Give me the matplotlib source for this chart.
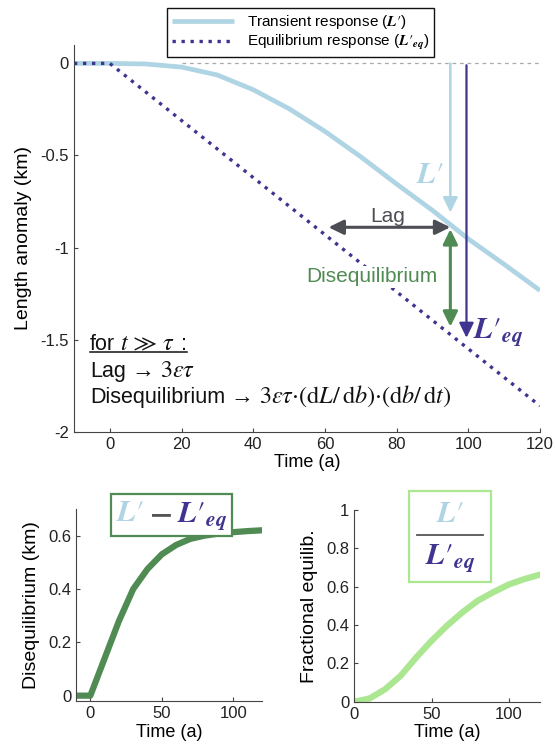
import matplotlib
matplotlib.use("Agg")
import matplotlib.pyplot as plt
from matplotlib.lines import Line2D
from matplotlib.offsetbox import AnnotationBbox, DrawingArea, HPacker, TextArea, VPacker

plt.rcParams.update({
    "font.family": ["Liberation Sans", "DejaVu Sans"],
    "mathtext.fontset": "stix",
    "axes.edgecolor": "#444444",
    "axes.linewidth": 0.8,
    "axes.spines.top": False,
    "axes.spines.right": False,
    "xtick.direction": "in",
    "ytick.direction": "in",
    "xtick.major.size": 3,
    "ytick.major.size": 3,
    "xtick.color": "#444444",
    "ytick.color": "#444444",
    "xtick.labelcolor": "#222222",
    "ytick.labelcolor": "#222222",
    "xtick.labelsize": 12,
    "ytick.labelsize": 12,
})

C_TRANS = "#afd4e3"
C_EQ = "#3f3590"
C_DISEQ = "#4f8b52"
C_FRAC = "#abe690"
C_LAG = "#4d4e55"
C_TEXT = "#111111"

# model output, 10-year steps (km)
years = [-10, 0, 10, 20, 30, 40, 50, 60, 70, 80, 90, 100, 110, 120]
L_transient = [0, 0, -0.003, -0.02, -0.063, -0.143, -0.246, -0.369, -0.507,
               -0.655, -0.798, -0.953, -1.091, -1.233]
L_equilib = [0, 0, -0.155, -0.31, -0.465, -0.62, -0.775, -0.93, -1.085,
             -1.24, -1.395, -1.55, -1.705, -1.86]
diseq = [0, 0, 0.14, 0.28, 0.40, 0.475, 0.53, 0.565, 0.588, 0.600, 0.608,
         0.613, 0.617, 0.62]
frac_years = [0, 10, 20, 30, 40, 50, 60, 70, 80, 90, 100, 110, 120]
frac_equilib = [0, 0.017, 0.065, 0.135, 0.23, 0.318, 0.397, 0.467, 0.528,
                0.572, 0.612, 0.64, 0.663]

# annotation geometry (time, km)
t_mark = 95
lag_span = (61, 95)
lag_level = -0.89
diseq_span = (-0.90, -1.43)
trans_arrow = (0, -0.81)
eq_arrow_t = 99.5
eq_arrow = (-0.01, -1.49)

L1 = r"$\mathbfit{L}\prime$"
LEQ = r"$\mathbfit{L}\prime_{\mathbfit{eq}}$"


def sans(s, size=15.5):
    return TextArea(s, textprops=dict(color=C_TEXT, fontsize=size))


def math(s, size=17.5):
    return TextArea(s, textprops=dict(color=C_TEXT, fontsize=size))


def put_line(ax, parts, x, y):
    box = HPacker(children=parts, align="baseline", pad=0, sep=4)
    ab = AnnotationBbox(box, (x, y), xycoords="data", box_alignment=(0, 0),
                        frameon=False, pad=0)
    ax.add_artist(ab)
    return ab


fig = plt.figure(figsize=(5.55, 7.51), dpi=100)

# ---- main panel: length anomaly
ax = fig.add_axes([0.1333, 0.4252, 0.8396, 0.5149])
ax.plot([20, 120], [0, 0], color="#aaaaaa", lw=0.9, dashes=(3, 3))
h1, = ax.plot(years, L_transient, color=C_TRANS, lw=3.4, solid_capstyle="butt")
h2, = ax.plot(years, L_equilib, color=C_EQ, lw=2.4, linestyle=(0, (1, 1.7)))

ax.annotate("", xy=(t_mark, trans_arrow[1]), xytext=(t_mark, trans_arrow[0]),
            arrowprops=dict(arrowstyle="-|>,head_length=0.45,head_width=0.22",
                            color=C_TRANS, lw=1.8, mutation_scale=20,
                            shrinkA=0, shrinkB=0))
ax.annotate("", xy=(eq_arrow_t, eq_arrow[1]), xytext=(eq_arrow_t, eq_arrow[0]),
            arrowprops=dict(arrowstyle="-|>,head_length=0.45,head_width=0.22",
                            color=C_EQ, lw=1.6, mutation_scale=20,
                            shrinkA=0, shrinkB=0))
ax.annotate("", xy=(lag_span[0], lag_level), xytext=(lag_span[1], lag_level),
            arrowprops=dict(arrowstyle="<|-|>,head_length=0.45,head_width=0.22",
                            color=C_LAG, lw=2.2, mutation_scale=20,
                            shrinkA=0, shrinkB=0))
ax.annotate("", xy=(t_mark, diseq_span[1]), xytext=(t_mark, diseq_span[0]),
            arrowprops=dict(arrowstyle="<|-|>,head_length=0.45,head_width=0.22",
                            color=C_DISEQ, lw=2.2, mutation_scale=20,
                            shrinkA=0, shrinkB=0))

ax.text(77.6, -0.834, "Lag", color=C_LAG, fontsize=15, ha="center", va="center")
ax.text(73, -1.16, "Disequilibrium", color=C_DISEQ, fontsize=15, ha="center",
        va="center", bbox=dict(facecolor="white", edgecolor="none", pad=1))
ax.text(89.3, -0.607, L1, color=C_TRANS, fontsize=22, ha="center", va="center")
ax.text(101.3, -1.46, LEQ, color=C_EQ, fontsize=22, ha="left", va="center")

# limit expressions, lower left
head = put_line(ax, [sans("for"), math(r"$t\,\gg\,\tau$"), sans(":")], -5.6, -1.585)
put_line(ax, [sans("Lag"), sans("\u2192", 16.5), math(r"$3\varepsilon\tau$")], -5.6, -1.728)
put_line(ax, [sans("Disequilibrium"), sans("\u2192", 16.5),
              math(r"$3\varepsilon\tau{\cdot}(\mathrm{d}L/\,\mathrm{d}b){\cdot}(\mathrm{d}b/\,\mathrm{d}t)$")],
         -5.6, -1.876)

ax.set_xlim(-10, 120)
ax.set_ylim(-2, 0.1)
ax.set_xticks([0, 20, 40, 60, 80, 100, 120])
ax.set_yticks([0, -0.5, -1, -1.5, -2])
ax.set_yticklabels(["0", "-0.5", "-1", "-1.5", "-2"])
ax.set_xlabel("Time (a)", fontsize=13, labelpad=2)
ax.set_ylabel("Length anomaly (km)", fontsize=14, labelpad=6)

fig.legend([h1, h2], ["Transient response (" + L1 + ")", "Equilibrium response (" + LEQ + ")"],
           loc="upper center", bbox_to_anchor=(0.5415, 0.999), fontsize=11,
           frameon=True, fancybox=False, edgecolor="#111111", framealpha=1,
           handlelength=4.1, borderpad=0.3, labelspacing=0.15, handletextpad=0.8)

# ---- lower left: disequilibrium
ax2 = fig.add_axes([0.137, 0.0666, 0.335, 0.2557])
ax2.plot(years, diseq, color=C_DISEQ, lw=4.5, solid_joinstyle="round")
ax2.set_xlim(-10, 120)
ax2.set_ylim(-0.02, 0.7)
ax2.set_xticks([0, 50, 100])
ax2.set_yticks([0, 0.2, 0.4, 0.6])
ax2.set_yticklabels(["0", "0.2", "0.4", "0.6"])
ax2.set_xlabel("Time (a)", fontsize=13, labelpad=2)
ax2.set_ylabel("Disequilibrium (km)", fontsize=14, labelpad=6)

diff_box = HPacker(children=[
    TextArea(L1, textprops=dict(color=C_TRANS, fontsize=22)),
    TextArea(r"$\mathbf{-}$", textprops=dict(color="#555555", fontsize=22)),
    TextArea(LEQ, textprops=dict(color=C_EQ, fontsize=22)),
], align="baseline", pad=0, sep=4)
ab = AnnotationBbox(diff_box, (0.309, 0.3142), xycoords="figure fraction",
                    box_alignment=(0.5, 0.5), frameon=True,
                    bboxprops=dict(edgecolor=C_DISEQ, facecolor="white", lw=1.6,
                                   boxstyle="square,pad=0.3"))
ab.set_zorder(5)
fig.add_artist(ab)

# ---- lower right: fractional equilibrium
ax3 = fig.add_axes([0.638, 0.0656, 0.335, 0.2553])
ax3.plot(frac_years, frac_equilib, color=C_FRAC, lw=4.5, solid_joinstyle="round")
ax3.set_xlim(0, 120)
ax3.set_ylim(0, 1)
ax3.set_xticks([0, 50, 100])
ax3.set_yticks([0, 0.2, 0.4, 0.6, 0.8, 1])
ax3.set_yticklabels(["0", "0.2", "0.4", "0.6", "0.8", "1"])
ax3.set_xlabel("Time (a)", fontsize=13, labelpad=2)
ax3.set_ylabel("Fractional equilib.", fontsize=14, labelpad=6)

bar = DrawingArea(48, 3)
bar.add_artist(Line2D([0, 48], [1.5, 1.5], color="#555555", lw=1.3))
frac_box = VPacker(children=[
    TextArea(L1, textprops=dict(color=C_TRANS, fontsize=22)),
    bar,
    TextArea(LEQ, textprops=dict(color=C_EQ, fontsize=22)),
], align="center", pad=0, sep=3)
ab2 = AnnotationBbox(frac_box, (0.811, 0.2856), xycoords="figure fraction",
                     box_alignment=(0.5, 0.5), frameon=True,
                     bboxprops=dict(edgecolor=C_FRAC, facecolor="white", lw=1.6,
                                    boxstyle="square,pad=0.55"))
ab2.set_zorder(5)
fig.add_artist(ab2)

# underline the "for t >> tau" heading
fig.canvas.draw()
bb = head.get_window_extent().transformed(ax.transData.inverted())
ax.plot([bb.x0, bb.x1], [-1.566, -1.566], color=C_TEXT, lw=1.1)

fig.savefig("out.png", dpi=100)
